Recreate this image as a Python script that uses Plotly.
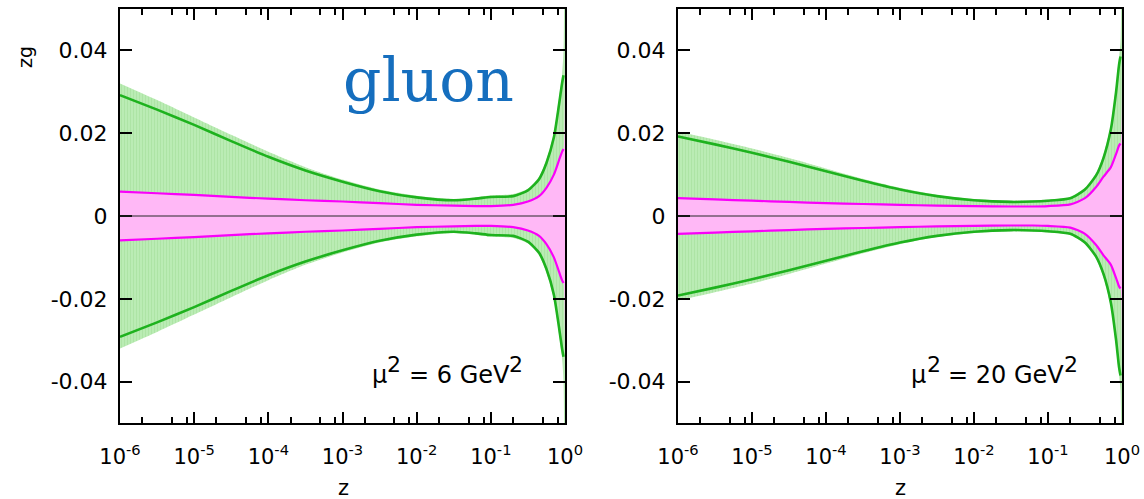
import plotly.graph_objects as go

W, H = 1144, 499

# z grid (momentum fraction) used for the curves
z = [1e-6, 3.16e-6, 1e-5, 3.16e-5, 1e-4, 3.16e-4, 1e-3, 3.16e-3, 1e-2, 3.16e-2,
     0.063, 0.1, 0.2, 0.316, 0.447, 0.562, 0.708, 0.832, 0.912, 0.955]
z_fill = z + [1.0]

# ---- mu^2 = 6 GeV^2 (left panel) ----
L_green_up = [0.0292, 0.0257, 0.0220, 0.0181, 0.0143, 0.0110, 0.0083, 0.0060, 0.0045, 0.0038,
              0.0042, 0.0046, 0.0048, 0.0062, 0.0089, 0.0128, 0.0190, 0.0270, 0.0320, 0.0340]
L_green_dn = [-0.0292, -0.0257, -0.0220, -0.0181, -0.0143, -0.0110, -0.0083, -0.0060, -0.0045, -0.0038,
              -0.0042, -0.0046, -0.0048, -0.0062, -0.0089, -0.0128, -0.0190, -0.0270, -0.0320, -0.0340]
L_band_up = [0.0320, 0.0280, 0.0238, 0.0196, 0.0155, 0.0118, 0.0088, 0.0064, 0.0049, 0.0041,
             0.0045, 0.0050, 0.0053, 0.0066, 0.0095, 0.0136, 0.0200, 0.0285, 0.0340, 0.0400, 0.0900]
L_band_dn = [-0.0320, -0.0280, -0.0238, -0.0196, -0.0155, -0.0118, -0.0088, -0.0064, -0.0049, -0.0041,
             -0.0045, -0.0050, -0.0053, -0.0066, -0.0095, -0.0136, -0.0200, -0.0285, -0.0340, -0.0400, -0.0900]
L_mag_up = [0.0059, 0.0055, 0.0051, 0.0046, 0.0042, 0.0038, 0.0035, 0.0031, 0.0027, 0.0025,
            0.0024, 0.0024, 0.0027, 0.0035, 0.0048, 0.0068, 0.0100, 0.0135, 0.0155, 0.0162]
L_mag_dn = [-0.0059, -0.0055, -0.0051, -0.0046, -0.0042, -0.0038, -0.0035, -0.0031, -0.0027, -0.0025,
            -0.0024, -0.0024, -0.0027, -0.0035, -0.0048, -0.0068, -0.0100, -0.0135, -0.0155, -0.0162]
L_pink_up = L_mag_up + [0.0350]
L_pink_dn = L_mag_dn + [-0.0350]

# ---- mu^2 = 20 GeV^2 (right panel) ----
R_green_up = [0.0192, 0.0173, 0.0153, 0.0131, 0.0108, 0.0085, 0.0064, 0.0048, 0.0038, 0.0034,
              0.0035, 0.0037, 0.0043, 0.0064, 0.0098, 0.0140, 0.0210, 0.0300, 0.0365, 0.0385]
R_green_dn = [-0.0192, -0.0173, -0.0153, -0.0131, -0.0108, -0.0085, -0.0064, -0.0048, -0.0038, -0.0034,
              -0.0035, -0.0037, -0.0043, -0.0064, -0.0098, -0.0140, -0.0210, -0.0300, -0.0365, -0.0385]
R_band_up = [0.0204, 0.0184, 0.0163, 0.0140, 0.0115, 0.0090, 0.0068, 0.0051, 0.0041, 0.0037,
             0.0038, 0.0040, 0.0046, 0.0068, 0.0104, 0.0148, 0.0220, 0.0315, 0.0385, 0.0420, 0.0900]
R_band_dn = [-0.0204, -0.0184, -0.0163, -0.0140, -0.0115, -0.0090, -0.0068, -0.0051, -0.0041, -0.0037,
             -0.0038, -0.0040, -0.0046, -0.0068, -0.0104, -0.0148, -0.0220, -0.0315, -0.0385, -0.0420, -0.0900]
R_mag_up = [0.0043, 0.0040, 0.0037, 0.0034, 0.0031, 0.0029, 0.0027, 0.0025, 0.0024, 0.0023,
            0.0023, 0.0024, 0.0028, 0.0043, 0.0070, 0.0095, 0.0118, 0.0150, 0.0170, 0.0175]
R_mag_dn = [-0.0043, -0.0040, -0.0037, -0.0034, -0.0031, -0.0029, -0.0027, -0.0025, -0.0024, -0.0023,
            -0.0023, -0.0024, -0.0028, -0.0043, -0.0070, -0.0095, -0.0118, -0.0150, -0.0170, -0.0175]
R_pink_up = R_mag_up + [0.0350]
R_pink_dn = R_mag_dn + [-0.0350]

x_tickvals = [1e-6, 1e-5, 1e-4, 1e-3, 1e-2, 1e-1, 1]
x_ticktext = ["10<sup>-6</sup>", "10<sup>-5</sup>", "10<sup>-4</sup>", "10<sup>-3</sup>",
              "10<sup>-2</sup>", "10<sup>-1</sup>", "10<sup>0</sup>"]
x_minor = [m * 10.0 ** e for e in range(-6, 0) for m in (2, 5, 8)]
y_tickvals = [-0.04, -0.02, 0, 0.02, 0.04]
y_ticktext = ["-0.04", "-0.02", "0", "0.02", "0.04"]

# scale labels: (main text after mu^2, right edge px)
scale_values = ["6", "20"]

GREEN_FILL = "rgb(186,236,180)"
GREEN_LINE = "rgb(30,178,30)"
PINK_FILL = "rgb(255,184,246)"
MAG_LINE = "rgb(250,0,250)"

fig = go.Figure()


def add_panel(xa, ya, band_up, band_dn, g_up, g_dn, p_up, p_dn, m_up, m_dn):
    common = dict(xaxis=xa, yaxis=ya, showlegend=False, hoverinfo="skip")
    sp = dict(width=0, shape="spline", smoothing=0.6)
    fig.add_trace(go.Scatter(x=z_fill, y=band_dn, mode="lines", line=sp, **common))
    fig.add_trace(go.Scatter(x=z_fill, y=band_up, mode="lines", line=sp,
                             fill="tonexty", fillcolor=GREEN_FILL,
                             fillpattern=dict(shape="|", size=3, solidity=0.25, fgcolor="rgb(168,226,160)",
                                              bgcolor=GREEN_FILL, fillmode="replace"),
                             **common))
    fig.add_trace(go.Scatter(x=z_fill, y=p_dn, mode="lines", line=sp, **common))
    fig.add_trace(go.Scatter(x=z_fill, y=p_up, mode="lines", line=sp,
                             fill="tonexty", fillcolor=PINK_FILL, **common))
    for yy in (g_up, g_dn):
        fig.add_trace(go.Scatter(x=z, y=yy, mode="lines",
                                 line=dict(color=GREEN_LINE, width=2.6, shape="spline", smoothing=0.6), **common))
    for yy in (m_up, m_dn):
        fig.add_trace(go.Scatter(x=z, y=yy, mode="lines",
                                 line=dict(color=MAG_LINE, width=2.2, shape="spline", smoothing=0.6), **common))


add_panel("x", "y", L_band_up, L_band_dn, L_green_up, L_green_dn, L_pink_up, L_pink_dn, L_mag_up, L_mag_dn)
add_panel("x2", "y2", R_band_up, R_band_dn, R_green_up, R_green_dn, R_pink_up, R_pink_dn, R_mag_up, R_mag_dn)


def xaxis_cfg(domain, anchor):
    return dict(domain=domain, anchor=anchor, type="log", range=[-6, 0], automargin=False,
                tickmode="array", tickvals=x_tickvals, ticktext=x_ticktext,
                ticks="inside", ticklen=11, tickwidth=2, tickcolor="black",
                minor=dict(tickmode="array", tickvals=x_minor, ticks="inside", ticklen=6,
                           tickwidth=2, tickcolor="black", showgrid=False),
                showline=True, linewidth=2, linecolor="black", mirror="ticks",
                showgrid=False, zeroline=False, ticklabelstandoff=14,
                tickfont=dict(family="DejaVu Sans", size=21, color="black"))


def yaxis_cfg(domain, anchor):
    return dict(domain=domain, anchor=anchor, range=[-0.05, 0.05], automargin=False,
                tickmode="array", tickvals=y_tickvals, ticktext=y_ticktext,
                ticks="inside", ticklen=12, tickwidth=2, tickcolor="black",
                showline=True, linewidth=2, linecolor="black", mirror="ticks",
                showgrid=False, zeroline=False, ticklabelstandoff=6,
                tickfont=dict(family="DejaVu Sans", size=22, color="black"))


ydom = [1 - 423 / H, 1 - 9 / H]
fig.update_layout(
    width=W, height=H, margin=dict(l=0, r=0, t=0, b=0, autoexpand=False),
    paper_bgcolor="white", plot_bgcolor="white",
    xaxis=xaxis_cfg([120 / W, 565 / W], "y"),
    yaxis=yaxis_cfg(ydom, "x"),
    xaxis2=xaxis_cfg([678 / W, 1122 / W], "y2"),
    yaxis2=yaxis_cfg(ydom, "x2"),
)

for xr, yr in (("x domain", "y"), ("x2 domain", "y2")):
    fig.add_shape(type="line", xref=xr, yref=yr, x0=0, x1=1, y0=0, y1=0,
                  line=dict(color="rgb(40,40,40)", width=1.2), layer="above")

annotations = [
    dict(text="gluon", x=341 / W, y=1 - 80 / H, xanchor="left", yanchor="middle",
         font=dict(family="DejaVu Serif", size=60, color="rgb(21,110,190)")),
    dict(text="z", x=343 / W, y=1 - 488 / H, xanchor="center", yanchor="middle",
         font=dict(family="DejaVu Sans", size=21, color="black")),
    dict(text="z", x=900 / W, y=1 - 488 / H, xanchor="center", yanchor="middle",
         font=dict(family="DejaVu Sans", size=21, color="black")),
    dict(text="zg", x=25 / W, y=1 - 57 / H, xanchor="center", yanchor="middle", textangle=-90,
         font=dict(family="DejaVu Sans", size=19, color="black")),
]

# "mu^2 = N GeV^2" labels with full-size raised exponents (DejaVu Sans advance widths)
ADV = {"μ": 0.636, "2": 0.636, "0": 0.636, "6": 0.636, " ": 0.318, "=": 0.838,
       "G": 0.775, "e": 0.615, "V": 0.684}
MAIN_SZ, SUP_SZ = 24, 22
MAIN_Y, SUP_Y = 375, 364


def tw(s, size):
    return sum(ADV[c] for c in s) * size


for val, right_px in zip(scale_values, [522, 1077]):
    mid = "= " + val + " GeV"
    pieces = [("μ", MAIN_SZ, MAIN_Y), ("2", SUP_SZ, SUP_Y), (mid, MAIN_SZ, MAIN_Y), ("2", SUP_SZ, SUP_Y)]
    total = tw("μ", MAIN_SZ) + tw("2", SUP_SZ) + tw(" ", MAIN_SZ) + tw(mid, MAIN_SZ) + tw("2", SUP_SZ)
    xpos = right_px - total
    for i, (txt, sz, yp) in enumerate(pieces):
        annotations.append(dict(text=txt, x=(xpos - 1) / W, y=1 - yp / H, xanchor="left", yanchor="middle",
                                font=dict(family="DejaVu Sans", size=sz, color="black")))
        xpos += tw(txt, sz)
        if i == 1:
            xpos += tw(" ", MAIN_SZ)

for a in annotations:
    a.update(xref="paper", yref="paper", showarrow=False)
fig.update_layout(annotations=annotations)

fig.write_html("out.html")
